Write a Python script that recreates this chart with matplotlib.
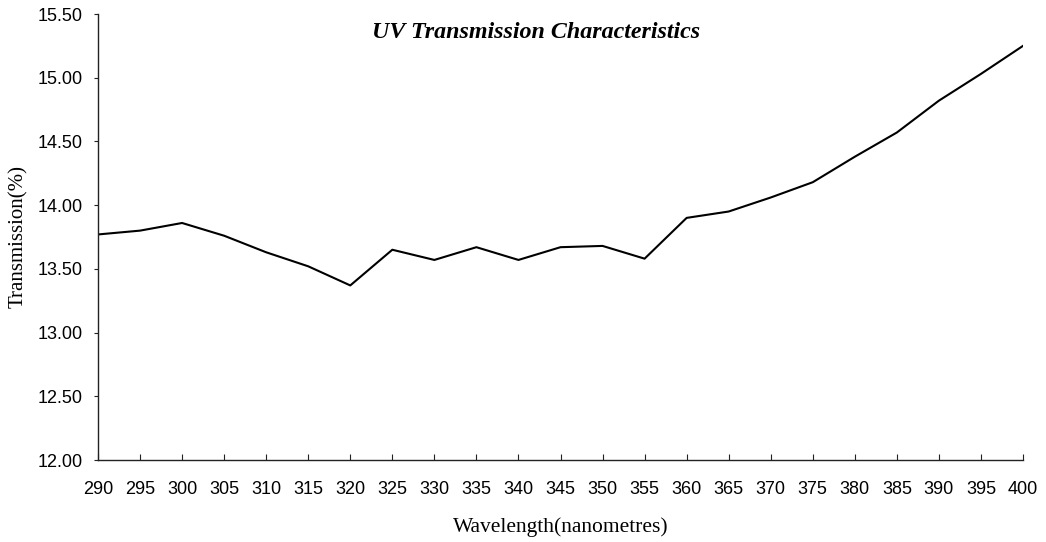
import matplotlib
matplotlib.use("Agg")
import matplotlib.pyplot as plt

wavelengths = [290, 295, 300, 305, 310, 315, 320, 325, 330, 335, 340, 345,
               350, 355, 360, 365, 370, 375, 380, 385, 390, 395, 400]
transmission = [13.77, 13.80, 13.86, 13.76, 13.63, 13.52, 13.37, 13.65, 13.57,
                13.67, 13.57, 13.67, 13.68, 13.58, 13.90, 13.95, 14.06, 14.18,
                14.38, 14.57, 14.82, 15.03, 15.25]
y_ticks = [12.0, 12.5, 13.0, 13.5, 14.0, 14.5, 15.0, 15.5]
title = "UV Transmission Characteristics"
x_label = "Wavelength(nanometres)"
y_label = "Transmission(%)"

fig = plt.figure(figsize=(10.46, 5.42), dpi=100)
ax = fig.add_axes([98/1046, 1 - 460/542, (1023 - 98)/1046, (460 - 14)/542])

ax.plot(wavelengths, transmission, color="black", linewidth=1.5)

ax.set_xlim(wavelengths[0], wavelengths[-1])
ax.set_ylim(y_ticks[0], y_ticks[-1])
ax.set_xticks(wavelengths)
ax.set_xticklabels([str(w) for w in wavelengths])
ax.set_yticks(y_ticks)
ax.set_yticklabels([f"{v:.2f}" for v in y_ticks])

for s in ["top", "right"]:
    ax.spines[s].set_visible(False)
for s in ["left", "bottom"]:
    ax.spines[s].set_color("#222222")
    ax.spines[s].set_linewidth(1.0)

ax.tick_params(axis="x", direction="in", length=4, width=0.8, color="#222222",
               pad=15, labelsize=13)
ax.tick_params(axis="y", direction="out", length=3, width=0.8, color="#222222",
               pad=8, labelsize=13)
for lbl in ax.get_xticklabels() + ax.get_yticklabels():
    lbl.set_fontfamily("Liberation Sans")

fig.text(536/1046, 1 - 33/542, title, ha="center", va="center",
         fontfamily="Liberation Serif", fontstyle="italic", fontweight="bold",
         fontsize=17.3)
fig.text(561/1046, 1 - 527/542, x_label, ha="center", va="center",
         fontfamily="Liberation Serif", fontsize=15.5)
fig.text(18/1046, 1 - 237/542, y_label, ha="center", va="center", rotation=90,
         fontfamily="Liberation Serif", fontsize=15)

fig.savefig("out.png", dpi=100)
